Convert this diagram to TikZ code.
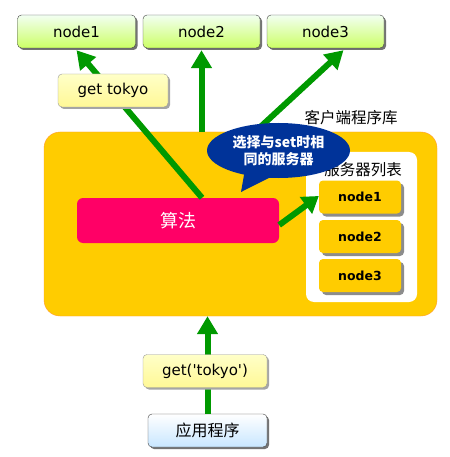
\documentclass[tikz,border=0pt]{standalone}
\usepackage{fontspec}
\setmainfont{DejaVu Sans}
\newfontfamily\cjk{Noto Sans CJK SC}
\usetikzlibrary{arrows.meta,shadows,shapes.geometric}
\definecolor{flow}{HTML}{009900}
\definecolor{gold}{HTML}{FFCC00}
\definecolor{rim}{HTML}{FF9933}
\definecolor{algo}{HTML}{FF0066}
\definecolor{tip}{HTML}{003399}
\begin{document}
\begin{tikzpicture}[x=1pt,y=-1pt,
  srv/.style={draw=black!75, rounded corners=4pt, top color=green!5!white, bottom color={rgb,255:red,204;green,255;blue,102},
    minimum width=118pt, minimum height=33pt, font=\fontsize{15}{17}\selectfont,
    drop shadow={shadow xshift=2pt, shadow yshift=-2pt, fill=black!55, opacity=1}},
  note/.style={draw=black!40, rounded corners=4pt, top color={rgb,255:red,255;green,255;blue,200}, bottom color={rgb,255:red,255;green,248;blue,150},
    minimum height=33pt, font=\fontsize{15}{17}\selectfont,
    drop shadow={shadow xshift=2pt, shadow yshift=-2pt, fill=black!35, opacity=1}},
  item/.style={fill=gold, rounded corners=4pt, minimum width=82pt, minimum height=33pt, font=\bfseries\fontsize{12.5}{14}\selectfont,
    drop shadow={shadow xshift=3pt, shadow yshift=-3pt, fill=black!45, opacity=1}},
  flowarr/.style={draw=flow, line width=6pt, -{Triangle[width=20pt,length=18pt]}}]
\useasboundingbox (0,0) rectangle (449,457);
% Points
\node[srv] (n1) at (76.5,31.5) {node1};
\node[srv, minimum width=117pt] (n2) at (201.5,31.5) {node2};
\node[srv, minimum width=117pt] (n3) at (325.5,31.5) {node3};
\node[draw=rim, fill=gold, rounded corners=16pt, minimum width=393pt, minimum height=184pt] (lib) at (240.5,224) {};
\node[font=\cjk\fontsize{15.5}{17}\selectfont] (libl) at (351,118) {客户端程序库};
\node[fill=white, rounded corners=8pt, minimum width=111pt, minimum height=150pt] (list) at (361.5,227) {};
\node[font=\cjk\fontsize{15.5}{17}\selectfont] (listl) at (363,170) {服务器列表};
\node[item] (i1) at (360,197) {node1};
\node[item] (i2) at (360,236.5) {node2};
\node[item] (i3) at (360,275.5) {node3};
\node[fill=algo, rounded corners=6pt, minimum width=202pt, minimum height=45pt, text=white, font=\cjk\fontsize{18}{20}\selectfont] (alg) at (178,220.5) {算法};
\coordinate (hid) at (230,155);

%Lines
\draw[flowarr] ([xshift=24pt]alg.north) -- ([yshift=-2pt]n1.south);
\draw[flowarr] (n2.south |- lib.north) -- ([yshift=-2pt]n2.south);
\draw[flowarr] (hid) -- ([xshift=18pt, yshift=-2pt]n3.south);
\draw[flowarr, -{Triangle[width=20pt,length=16pt]}] ([yshift=-4.5pt]alg.east) -- ([yshift=1pt]i1.west);

\node[note, minimum width=110pt] (gt) at (113,90.5) {get tokyo};

% bubble
\node[ellipse, fill=tip, minimum width=143pt, minimum height=55pt, inner sep=0pt, text=white, align=center,
  font=\cjk\bfseries\fontsize{14}{17}\selectfont] (bub) at (278.5,150.5) {选择与set时相\\同的服务器};
\fill[tip] ([xshift=-34pt, yshift=6pt]bub.south) -- (241,192) -- ([xshift=-4pt, yshift=3pt]bub.south) -- cycle;

% application
\node[draw=black!75, rounded corners=4pt, top color=white, bottom color={rgb,255:red,200;green,230;blue,255}, minimum width=119pt, minimum height=33pt,
  font=\cjk\fontsize{16}{18}\selectfont, drop shadow={shadow xshift=2pt, shadow yshift=-2pt, fill=black!55, opacity=1}] (app) at (207.5,430.5) {应用程序};
\draw[flowarr] (app.north) -- (app.north |- lib.south);
\node[note, minimum width=124pt] (gq) at (205,371) {get(\textquotesingle tokyo\textquotesingle)};
\end{tikzpicture}
\end{document}
